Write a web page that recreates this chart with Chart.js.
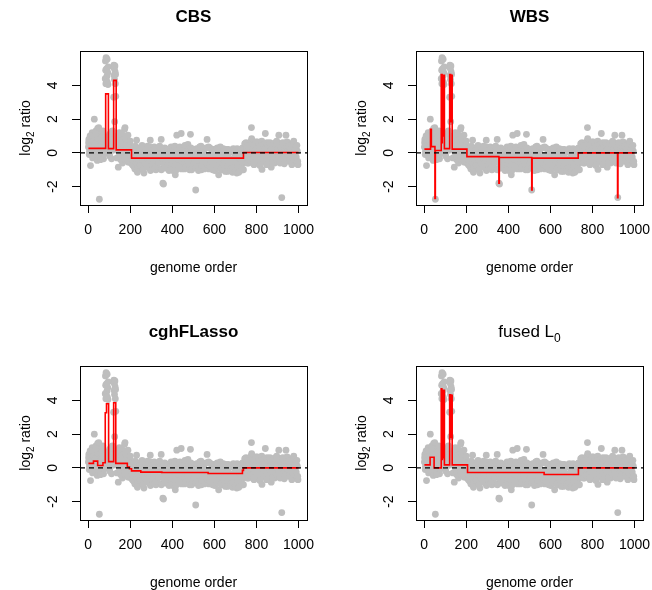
<!DOCTYPE html>
<html>
<head>
<meta charset="utf-8">
<script src="https://cdn.jsdelivr.net/npm/chart.js@4.4.1/dist/chart.umd.min.js"></script>
<style>
  html, body { margin: 0; padding: 0; background: #fff; }
  #wrap { position: relative; width: 652px; height: 590px; overflow: hidden; }
  #wrap canvas { position: absolute; }
</style>
</head>
<body>
<div id="wrap">
  <canvas id="pCBS"  width="316" height="275" style="left:0;top:0"></canvas>
  <canvas id="pWBS"  width="316" height="275" style="left:336px;top:0"></canvas>
  <canvas id="pCGH"  width="316" height="275" style="left:0;top:315px"></canvas>
  <canvas id="pL0"   width="316" height="275" style="left:336px;top:315px"></canvas>
</div>
<script>
'use strict';

// ── AXES ──
const X_MIN = -39, X_MAX = 1040;
const Y_MIN = -3.09, Y_MAX = 6.04;
const xTicks = [0, 200, 400, 600, 800, 1000];
const yTicks = [-2, 0, 2, 4];

// ── PROBES (genome order, log2 ratio) ──
const probesStart = [
  [1,0.35],[3,0.8],[5,-0.1],[7,0.55],[9,1.0],[11,-0.75],[13,0.2],[15,0.9],[17,0.4],[19,1.2],
  [21,-0.3],[23,0.65],[25,0.1],[27,1.05],[29,2.0],[31,0.45],[33,-0.2],[35,0.85],[37,1.3],[39,0.3],
  [41,0.7],[43,-0.45],[45,1.45],[47,0.15],[49,0.95],[51,0.5],[53,-2.75],[55,0.6],[57,1.1],[59,-0.1],
  [61,0.4],[63,1.25],[65,0.75],[67,0.05],[69,0.55],[71,1.0],[73,-0.35],[75,0.3],[77,0.85],[79,0.2],
  [2,0.6],[6,0.1],[10,0.95],[14,0.45],[18,-0.15],[22,1.1],[26,0.7],[30,0.25],[34,1.2],[38,0.55],
  [42,0.0],[46,0.85],[50,1.5],[54,0.35],[58,-0.4],[62,0.9],[66,0.5],[70,1.3],[74,0.65],[78,-0.05]
];
const probesSpike1 = [
  [80,0.6],[81,4.4],[82,5.45],[83,4.9],[84,4.1],[85,5.65],[86,4.3],[87,0.9],[88,5.0],[89,4.55],
  [90,5.55],[91,4.2],[92,0.4],[93,4.75],[94,4.05],[95,5.1],[96,0.7],[97,0.25]
];
const probesGap = [
  [99,0.45],[101,1.1],[103,-0.2],[105,0.7],[107,0.3],[109,0.95],[111,-0.35],[113,0.6],[115,1.3],[117,0.15],[119,0.5]
];
const probesSpike2 = [
  [120,0.8],[121,3.3],[122,5.2],[123,4.6],[124,5.0],[125,4.35],[126,1.85],[127,5.15],[128,4.8],[129,4.1],
  [130,4.65],[131,3.35],[132,0.5],[133,1.0]
];
const probesShoulder = [
  [135,0.6],[137,-0.3],[139,1.0],[141,0.2],[143,-0.85],[145,0.75],[147,0.3],[149,-0.15],[151,1.15],[153,0.45],
  [155,-0.4],[157,0.9],[159,0.1],[161,0.55],[163,-0.6],[165,0.35],[167,1.0],[169,-0.05],[171,0.6],[173,1.4],
  [175,1.5],[177,0.25],[179,-0.45],[181,0.7],[183,0.05],[185,-0.2],[187,0.5],[189,1.05],[191,-0.55],[193,0.3],
  [195,-0.1],[197,0.55],[199,-0.35],[201,0.15],[203,-0.6],
  [136,0.3],[140,0.85],[144,0.1],[148,1.2],[152,0.55],[156,-0.2],[160,0.75],[164,1.05],[168,0.4],[172,-0.3],
  [176,0.9],[180,0.2],[184,0.65],[188,-0.4],[192,0.45],[196,0.05],[200,0.7],[204,-0.25]
];
const probesMiddle = [
  [206,-0.1],[210,-0.7],[214,0.25],[218,-0.45],[222,-0.95],[226,0.1],[230,0.75],[234,-1.15],[238,-0.3],[242,0.3],
  [246,-0.65],[250,-0.15],[254,-0.85],[258,0.2],[262,-0.5],[265,-1.2],[270,0.05],[274,-0.35],[278,-0.75],[282,0.4],
  [286,-0.2],[290,-0.9],[295,0.75],[298,-0.55],[302,0.1],[306,-0.3],[310,-0.8],[314,0.35],[318,-0.45],[322,-1.0],
  [326,0.0],[330,-0.6],[334,0.3],[338,-0.25],[342,-0.95],[347,0.8],[350,-0.4],[355,-1.8],[358,-1.85],[362,-0.15],
  [366,-0.7],[370,0.2],[374,-0.5],[378,-0.9],[382,0.1],[386,-0.3],[390,-0.75],[394,0.35],[398,-0.45],[402,-1.05],
  [406,0.0],[410,-0.6],[414,-1.3],[418,0.25],[421,1.05],[426,-0.4],[430,-0.85],[434,0.15],[438,-0.25],[442,1.15],
  [446,-0.7],[450,0.05],[454,-0.5],[458,-0.95],[462,0.3],[466,-0.2],[470,-0.65],[474,0.5],[478,-0.35],[482,-1.0],
  [486,1.1],[490,-0.55],[494,0.1],[498,-0.3],[502,-0.8],[506,0.2],[511,-2.2],[514,-0.45],[518,-0.9],[522,0.05],
  [526,-0.6],[530,0.35],[534,-0.25],[538,-1.0],[542,0.1],[546,-0.5],[550,-0.8],[554,0.25],[558,-0.35],[562,-0.7],
  [565,0.8],[570,-0.15],[574,-0.95],[578,0.3],[582,-0.5],[586,-0.2],[590,-0.85],[594,0.2],[598,-0.4],[602,-1.05],
  [606,0.0],[610,-0.6],[614,0.3],[618,-0.3],[620,-1.3],[626,-0.75],[630,0.15],[634,-0.45],[638,-0.95],[642,0.25],
  [646,-0.2],[650,-0.7],[654,0.1],[658,-0.5],[662,-1.1],[666,0.2],[670,-0.35],[674,-0.85],[678,0.05],[682,-0.6],
  [686,-1.15],[690,0.25],[694,-0.3],[698,-0.9],[702,0.1],[706,-1.2],[710,-0.55],[714,0.2],[718,-0.4],[722,-1.05],
  [726,-0.15],[730,-0.7],[734,0.3],[738,-1.0],
  [208,-0.35],[212,0.1],[216,-0.8],[220,-0.2],[224,0.4],[228,-0.6],[232,-0.05],[236,-0.9],[240,-0.4],[244,0.15],
  [248,-0.75],[252,-0.25],[256,0.45],[260,-1.0],[264,-0.15],[268,-0.55],[272,0.2],[276,-0.85],[280,-0.3],[284,0.05],
  [288,-0.65],[292,0.35],[296,-1.05],[300,-0.2],[304,-0.7],[308,0.15],[312,-0.45],[316,-0.95],[320,0.25],[324,-0.35],
  [328,-0.8],[332,0.0],[336,-0.55],[340,0.4],[344,-0.25],[348,-1.0],[352,0.1],[356,-0.6],[360,-0.3],[364,0.3],
  [368,-0.9],[372,-0.15],[376,0.2],[380,-0.65],[384,-1.05],[388,0.05],[392,-0.4],[396,-0.85],[400,0.25],[404,-0.2],
  [408,-0.7],[412,0.4],[416,-0.5],[420,-1.0],[424,0.0],[428,-0.35],[432,-0.75],[436,0.35],[440,-0.45],[444,-0.95],
  [448,0.15],[452,-0.25],[456,-0.6],[460,0.45],[464,-0.85],[468,-0.1],[472,-0.5],[476,0.2],[480,-0.7],[484,-0.3],
  [488,0.3],[492,-1.0],[496,-0.15],[500,-0.6],[504,0.1],[508,-0.4],[512,-0.85],[516,0.25],[520,-0.3],[524,-1.05],
  [528,0.0],[532,-0.55],[536,0.4],[540,-0.75],[544,-0.2],[548,0.15],[552,-0.95],[556,-0.45],[560,0.3],[564,-0.65],
  [568,-0.25],[572,0.35],[576,-0.8],[580,-0.1],[584,-0.5],[588,0.2],[592,-1.0],[596,-0.3],[600,0.1],[604,-0.7],
  [608,-0.4],[612,0.25],[616,-0.9],[620,-0.15],[624,-0.55],[628,0.35],[632,-1.0],[636,-0.25],[640,-0.65],[644,0.1],
  [648,-0.45],[652,-1.1],[656,0.2],[660,-0.3],[664,-0.8],[668,0.0],[672,-0.6],[676,-1.05],[680,0.15],[684,-0.4],
  [688,-0.85],[692,0.05],[696,-0.5],[700,-1.1],[704,-0.2],[708,0.25],[712,-0.75],[716,-1.15],[720,-0.3],[724,0.1],
  [728,-0.55],[732,-1.0],[736,-0.1]
];
const probesTail = [
  [742,0.3],[746,-0.45],[750,0.6],[754,-0.2],[758,0.15],[762,-0.6],[766,0.45],[770,-0.1],[774,0.7],[776,1.5],
  [780,-0.35],[784,0.25],[788,-0.7],[792,0.5],[796,0.0],[800,-0.5],[804,0.65],[808,-0.25],[812,0.3],[816,-0.75],
  [820,0.55],[824,-0.15],[826,-0.98],[830,0.4],[834,-0.4],[838,0.2],[842,1.15],[846,-0.3],[850,0.6],[854,-0.55],
  [858,0.1],[862,0.45],[866,-0.2],[870,-0.85],[874,0.5],[878,-0.35],[882,0.25],[886,-0.6],[890,0.6],[894,-0.1],
  [898,0.35],[902,-0.5],[906,1.05],[910,0.15],[914,-0.3],[918,0.55],[920,-2.65],[924,-0.4],[928,0.3],[932,-0.65],
  [936,0.45],[940,1.05],[944,-0.2],[948,0.6],[952,-0.5],[956,0.2],[960,-0.3],[964,0.55],[968,-0.7],[972,0.35],
  [976,-0.15],[980,0.5],[984,-0.45],[988,0.25],[990,-0.6],[994,0.1],[997,-0.7],
  [744,0.55],[748,-0.1],[752,0.25],[756,-0.6],[760,0.4],[764,0.0],[768,-0.45],[772,0.3],[777,0.85],[781,0.1],
  [785,-0.55],[789,0.45],[793,-0.2],[797,0.65],[801,0.2],[805,-0.4],[809,0.5],[813,-0.1],[817,0.35],[821,-0.6],
  [825,0.7],[828,0.05],[832,-0.35],[836,0.5],[840,-0.15],[844,0.3],[848,-0.7],[852,0.45],[856,0.0],[860,-0.45],
  [864,0.6],[868,0.15],[872,-0.25],[876,0.4],[880,-0.55],[884,0.55],[888,0.05],[892,-0.35],[896,0.7],[900,0.2],
  [904,-0.25],[908,0.45],[912,-0.6],[916,0.3],[921,0.0],[925,0.6],[929,-0.3],[933,0.2],[937,-0.5],[941,0.35],
  [945,0.65],[949,-0.1],[953,0.4],[957,-0.45],[961,0.15],[965,-0.2],[969,0.5],[973,-0.35],[977,0.7],[981,0.05],
  [985,0.35],[989,-0.25],[992,0.45],[996,-0.5]
];

// ── SEGMENT FITS (start of segment, level) ──
const cbsBreaks = [1, 83, 96, 121, 133, 206, 738, 1000];
const cbsLevels = [0.27, 3.5, 0.25, 4.3, 0.18, -0.31, 0.02, 0.02];

const wbsBreaks = [1, 30, 34, 51, 53, 81, 85, 86, 92, 93, 96, 121, 126, 127, 133, 203, 355, 357, 511, 513, 732, 919, 921, 1000];
const wbsLevels = [0.22, 1.4, 0.37, -2.7, 0.14, 4.65, 0.6, 4.6, 1.0, 4.6, 0.25, 4.65, 1.85, 4.6, 0.22, -0.22, -1.8, -0.27, -2.2, -0.31, 0.0, -2.65, 0.0, 0.0];

const cghBreaks = [1, 25, 45, 70, 81, 87, 97, 121, 131, 186, 196, 206, 250, 350, 570, 733, 738, 1000];
const cghLevels = [0.27, 0.4, 0.14, 0.3, 3.27, 3.8, 0.37, 3.86, 0.27, 0.05, -0.05, -0.18, -0.25, -0.27, -0.33, -0.15, 0.0, 0.0];

const l0Breaks = [1, 28, 47, 81, 84, 86, 92, 93, 96, 121, 126, 127, 133, 206, 570, 733, 1000];
const l0Levels = [0.18, 0.63, 0.0, 4.69, 0.5, 4.6, 0.6, 4.6, 0.18, 4.33, 1.8, 4.3, 0.18, -0.27, -0.39, 0.0, 0.0];

const FONT = '"Liberation Sans", Arial, Helvetica, sans-serif';

const panels = [
  { id: 'pCBS', title: 'CBS',       bold: true,  sub: '',  breaks: cbsBreaks, levels: cbsLevels },
  { id: 'pWBS', title: 'WBS',       bold: true,  sub: '',  breaks: wbsBreaks, levels: wbsLevels },
  { id: 'pCGH', title: 'cghFLasso', bold: true,  sub: '',  breaks: cghBreaks, levels: cghLevels },
  { id: 'pL0',  title: 'fused L',   bold: false, sub: '0', breaks: l0Breaks,  levels: l0Levels }
];

const allProbes = [].concat(probesStart, probesSpike1, probesGap, probesSpike2, probesShoulder, probesMiddle, probesTail);

// draw text with a subscript, centred on 0,0 in current frame
function textWithSub(ctx, parts, size) {
  const subSize = Math.round(size * 0.72);
  const fonts = parts.map(p => `${p.bold ? 'bold ' : ''}${p.sub ? subSize : size}px ${FONT}`);
  const widths = parts.map((p, i) => { ctx.font = fonts[i]; return ctx.measureText(p.t).width; });
  let x = -widths.reduce((a, b) => a + b, 0) / 2;
  ctx.textAlign = 'left';
  ctx.textBaseline = 'alphabetic';
  parts.forEach((p, i) => {
    ctx.font = fonts[i];
    ctx.fillText(p.t, x, size * 0.36 + (p.sub ? size * 0.3 : 0));
    x += widths[i];
  });
}

// ── BOX, ROTATED Y LABELS, TITLES ──
const panelDecor = {
  id: 'panelDecor',
  afterDraw(chart, args, opts) {
    const { ctx, chartArea: a, scales: { y } } = chart;
    ctx.save();
    ctx.strokeStyle = '#000';
    ctx.lineWidth = 1;
    ctx.strokeRect(Math.round(a.left) + 0.5, Math.round(a.top) + 0.5, Math.round(a.right - a.left), Math.round(a.bottom - a.top));

    ctx.fillStyle = '#000';
    ctx.font = `14px ${FONT}`;
    ctx.textAlign = 'center';
    ctx.textBaseline = 'middle';
    yTicks.forEach(v => {
      ctx.save();
      ctx.translate(a.left - 27, y.getPixelForValue(v));
      ctx.rotate(-Math.PI / 2);
      ctx.fillText(String(v), 0, 0);
      ctx.restore();
    });

    // y title
    ctx.save();
    ctx.translate(a.left - 55, (a.top + a.bottom) / 2);
    ctx.rotate(-Math.PI / 2);
    textWithSub(ctx, [{ t: 'log' }, { t: '2', sub: true }, { t: ' ratio' }], 14);
    ctx.restore();

    // x title
    ctx.save();
    ctx.translate((a.left + a.right) / 2, a.bottom + 62);
    textWithSub(ctx, [{ t: 'genome order' }], 14);
    ctx.restore();

    // main title
    ctx.save();
    ctx.translate((a.left + a.right) / 2, a.top - 35);
    const parts = [{ t: opts.title, bold: opts.bold }];
    if (opts.sub) parts.push({ t: opts.sub, sub: true });
    textWithSub(ctx, parts, 17);
    ctx.restore();

    ctx.restore();
  }
};

function buildPanel(p) {
  return new Chart(document.getElementById(p.id), {
    type: 'scatter',
    data: {
      datasets: [
        { type: 'line', data: [{ x: X_MIN, y: 0 }, { x: X_MAX, y: 0 }], borderColor: '#000', borderWidth: 1.2,
          borderDash: [5, 4], pointRadius: 0, order: 1 },
        { type: 'line', data: p.breaks.map((b, i) => ({ x: b, y: p.levels[i] })), stepped: true,
          borderColor: '#ff0000', borderWidth: 1.6, pointRadius: 0, order: 2 },
        { data: allProbes.map(([x, y]) => ({ x, y })), backgroundColor: '#bebebe', borderWidth: 0,
          pointRadius: 3.4, order: 3 }
      ]
    },
    options: {
      responsive: false,
      animation: false,
      devicePixelRatio: 1,
      layout: { padding: { left: 0, top: 51, right: 9, bottom: 0 } },
      plugins: {
        legend: { display: false },
        tooltip: { enabled: false },
        panelDecor: { title: p.title, bold: p.bold, sub: p.sub }
      },
      scales: {
        x: {
          type: 'linear', min: X_MIN, max: X_MAX,
          afterBuildTicks: s => { s.ticks = xTicks.map(v => ({ value: v })); },
          afterFit: s => { s.height = 70; s.paddingLeft = 0; s.paddingRight = 0; },
          border: { display: false },
          grid: { drawOnChartArea: false, drawTicks: true, tickLength: 8, color: '#000', lineWidth: 1 },
          ticks: { color: '#000', font: { family: FONT, size: 14 }, padding: 9, maxRotation: 0, autoSkip: false,
                   callback: v => String(v) }
        },
        y: {
          type: 'linear', min: Y_MIN, max: Y_MAX,
          afterBuildTicks: s => { s.ticks = yTicks.map(v => ({ value: v })); },
          afterFit: s => { s.width = 80; s.paddingTop = 0; s.paddingBottom = 0; },
          border: { display: false },
          grid: { drawOnChartArea: false, drawTicks: true, tickLength: 8, color: '#000', lineWidth: 1 },
          ticks: { display: false }
        }
      }
    },
    plugins: [panelDecor]
  });
}

panels.forEach(buildPanel);
</script>
</body>
</html>
